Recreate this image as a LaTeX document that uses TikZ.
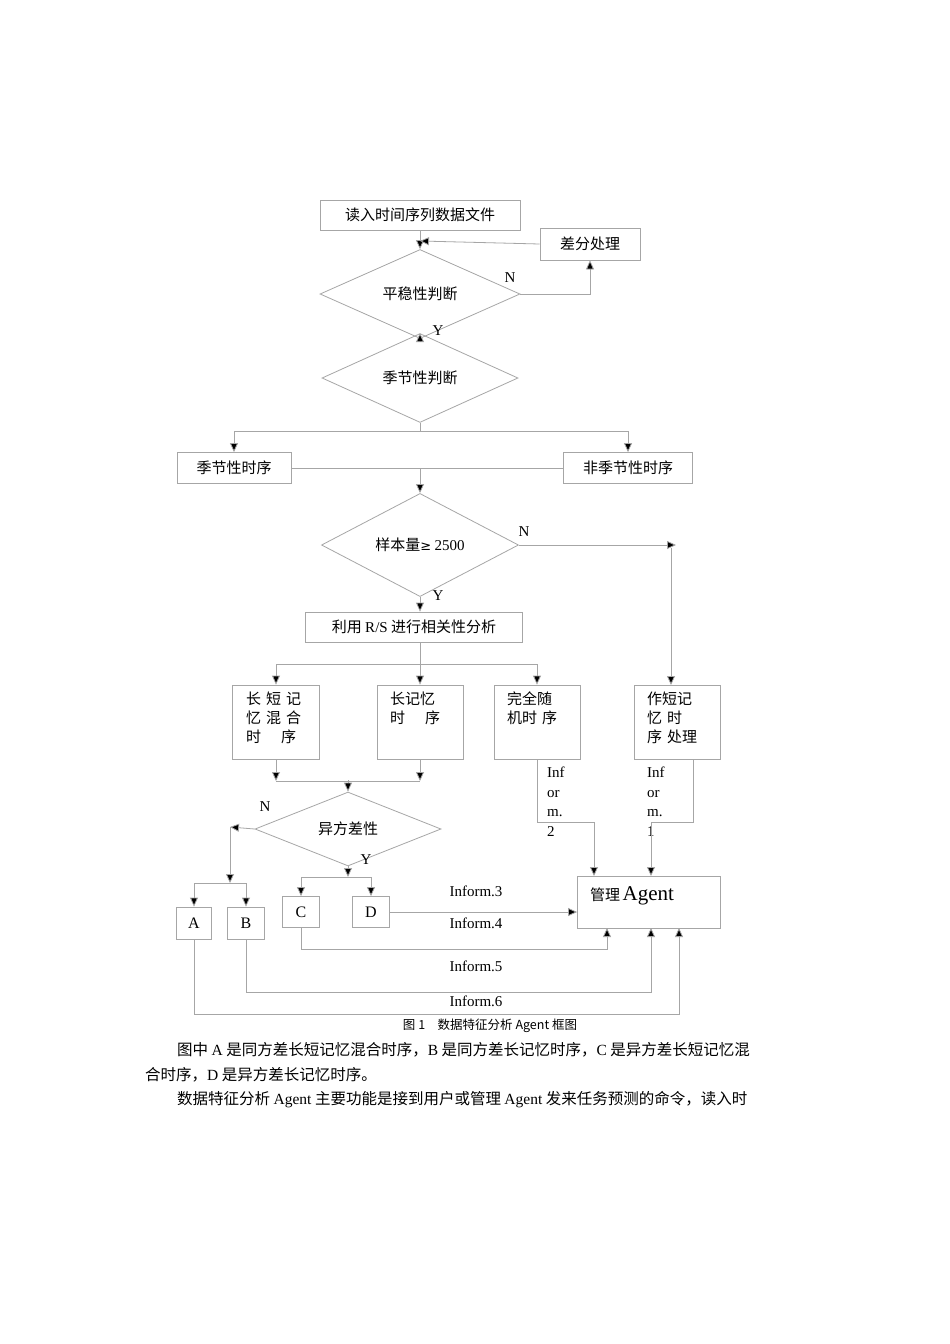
\documentclass[tikz,border=0pt]{standalone}
\usepackage{fontspec}
\setmainfont{Liberation Serif}
\newfontfamily\cjk{Noto Sans CJK SC}
\usetikzlibrary{shapes.geometric,arrows.meta}
\newcommand{\zh}[1]{{\cjk #1}}
\begin{document}
\begin{tikzpicture}[x=1pt,y=-1pt,
  line/.style={draw=black!35,line width=0.8pt},
  arr/.style={line,-{Triangle[length=9pt,width=8pt,fill=black]}},
  box/.style={draw=black!35,line width=0.8pt,rectangle,inner sep=0pt,font=\fontsize{15}{18}\selectfont\cjk},
  dia/.style={draw=black!35,line width=0.8pt,diamond,inner sep=0pt,font=\fontsize{15}{18}\selectfont\cjk},
  lab/.style={font=\fontsize{15}{18}\selectfont,inner sep=0pt},
  tall/.style={box,align=left,text width=70pt,anchor=north,text depth=0pt}]
\useasboundingbox[fill=white] (0,0) rectangle (950,1344);
\node[box,minimum width=200pt,minimum height=30pt] (read) at (420,215) {读入时间序列数据文件};
\node[box,minimum width=100pt,minimum height=32pt] (diff) at (590,244) {差分处理};
\node[dia,minimum width=200pt,minimum height=62pt] (d1) at (420,294) {平稳性判断};
\node[dia,minimum width=196pt,minimum height=63pt] (d2) at (420,378) {季节性判断};
\node[box,minimum width=114pt,minimum height=31pt] (seas) at (234,468) {季节性时序};
\node[box,minimum width=129pt,minimum height=31pt] (nseas) at (628,468) {非季节性时序};
\node[dia,minimum width=197pt,minimum height=91pt] (d3) at (420,545) {样本量{\fontspec{DejaVu Sans}\fontsize{13}{15}\selectfont ≥} {\rmfamily 2500}};
\node[box,minimum width=217pt,minimum height=30pt] (rs) at (414,627) {利用 {\rmfamily R/S} 进行相关性分析};
\node[box,minimum width=87pt,minimum height=74pt] (b1) at (276,722) {};
\node[box,minimum width=86pt,minimum height=74pt] (b2) at (420,722) {};
\node[box,minimum width=86pt,minimum height=74pt] (b3) at (537,722) {};
\node[box,minimum width=86pt,minimum height=74pt] (b4) at (677,722) {};
\node[font=\fontsize{15}{19}\selectfont\cjk,align=left,anchor=north west,inner sep=0pt] (t1) at (246,692) {长\,\,短\,\,记\\忆\,\,混\,\,合\\时\quad\,\,序};
\node[font=\fontsize{15}{19}\selectfont\cjk,align=left,anchor=north west,inner sep=0pt] (t2) at (390,692) {长记忆\\时\quad\,\,序};
\node[font=\fontsize{15}{19}\selectfont\cjk,align=left,anchor=north west,inner sep=0pt] (t3) at (507,692) {完全随\\机时\,\,序};
\node[font=\fontsize{15}{19}\selectfont\cjk,align=left,anchor=north west,inner sep=0pt] (t4) at (647,692) {作短记\\忆\,\,时\\序\,\,处理};
\node[dia,minimum width=186pt,minimum height=54pt] (d4) at (348,829) {异方差性};
\node[box,font=\fontsize{16}{18}\selectfont,minimum width=35pt,minimum height=32pt] (A) at (194,923) {A};
\node[box,font=\fontsize{16}{18}\selectfont,minimum width=37pt,minimum height=32pt] (B) at (246,923) {B};
\node[box,font=\fontsize{16}{18}\selectfont,minimum width=37pt,minimum height=31pt] (C) at (301,912) {C};
\node[box,font=\fontsize{16}{18}\selectfont,minimum width=37pt,minimum height=31pt] (D) at (371,912) {D};
\node[box,minimum width=143pt,minimum height=52pt] (ag) at (649,902) {};
\node[anchor=west,inner sep=0pt] (agt) at (590,896) {{\cjk\fontsize{15}{18}\selectfont 管理} {\fontsize{21}{24}\selectfont Agent}};
% labels
\node[lab] (n1) at (510,278) {N};
\node[lab] (y1) at (438,331) {Y};
\node[lab] (n3) at (524,532) {N};
\node[lab] (y3) at (438,596) {Y};
\node[lab] (n4) at (265,807) {N};
\node[lab] (y4) at (366,860) {Y};
\node[lab,align=left,anchor=north west,font=\fontsize{15}{19.5}\selectfont] (i2) at (547,767) {Inf\\or\\m.\\2};
\node[lab,align=left,anchor=north west,font=\fontsize{15}{19.5}\selectfont] (i1) at (647,767) {Inf\\or\\m.\\1};
\node[lab] (i3) at (476,891) {Inform.3};
\node[lab] (i4) at (476,923) {Inform.4};
\node[lab] (i5) at (476,966) {Inform.5};
\node[lab] (i6) at (476,1001) {Inform.6};
% coordinates
\coordinate (m1) at (420,241);
\coordinate (s1) at (420,431);
\coordinate (s2) at (420,468);
\coordinate (nr) at (676,545);
\coordinate (s3) at (420,664);
\coordinate (s4) at (348,780);
\coordinate (s5) at (230,827);
\coordinate (s6) at (230,883);
\coordinate (s7) at (348,877);
% connectors
\draw[line] (read) -- (m1);
\draw[arr] (m1) -- (d1.north);
\draw[arr] (diff.west) -- (m1);
\draw[arr] (d1.east) -| (diff.south);
\draw[arr] (d1.south) -- (d2.north);
\draw[line] (d2.south) -- (s1);
\draw[arr] (s1) -| (seas.north);
\draw[arr] (s1) -| (nseas.north);
\draw[line] (seas.east) -- (nseas.west);
\draw[arr] (s2) -- (d3.north);
\draw[arr] (d3.east) -- (nr);
\draw[arr] (671,548) -- (671,685);
\draw[arr] (d3.south) -- (rs.north-|d3.south);
\draw[line] (rs.south-|s3) -- (s3);
\draw[arr] (s3) -| (b1.north);
\draw[arr] (s3) -- (b2.north);
\draw[arr] (s3) -| (b3.north);
\draw[arr] (b1.south) -- (276,781);
\draw[arr] (b2.south) -- (420,781);
\draw[line] (276,781) -- (420,781);
\draw[arr] (s4) -- (d4.north);
\draw[arr] (d4.west) -- (s5);
\draw[arr] (s5) -- (s6);
\draw[arr] (s6) -| (A.north);
\draw[arr] (s6) -| (B.north);
\draw[arr] (d4.south) -- (s7);
\draw[arr] (s7) -| (C.north);
\draw[arr] (s7) -| (D.north);
\draw[arr] (D.east) -- (ag.west|-D.east);
\draw[arr] (C.south) |- (607,949) -- (607,928);
\draw[arr] (B.south) |- (651,992) -- (651,928);
\draw[arr] (A.south) |- (679,1014) -- (679,928);
\draw[arr] (b3.south) |- (594,822) -- (594,876);
\draw[arr] (b4.south-|693,0) |- (651,822) -- (651,876);
% caption and body
\node[font=\fontsize{12.5}{14}\selectfont\cjk] (cap) at (490,1026) {图 1\quad 数据特征分析 Agent 框图};
\node[anchor=west,font=\fontsize{15.5}{18}\selectfont\cjk,inner sep=0pt] (p1) at (177,1050) {图中 {\rmfamily A} 是同方差长短记忆混合时序，{\rmfamily B} 是同方差长记忆时序，{\rmfamily C} 是异方差长短记忆混};
\node[anchor=west,font=\fontsize{15.5}{18}\selectfont\cjk,inner sep=0pt] (p2) at (145,1075) {合时序，{\rmfamily D} 是异方差长记忆时序。};
\node[anchor=west,font=\fontsize{15.5}{18}\selectfont\cjk,inner sep=0pt] (p3) at (177,1100) {数据特征分析 {\rmfamily Agent} 主要功能是接到用户或管理 {\rmfamily Agent} 发来任务预测的命令，读入时};
\end{tikzpicture}
\end{document}
